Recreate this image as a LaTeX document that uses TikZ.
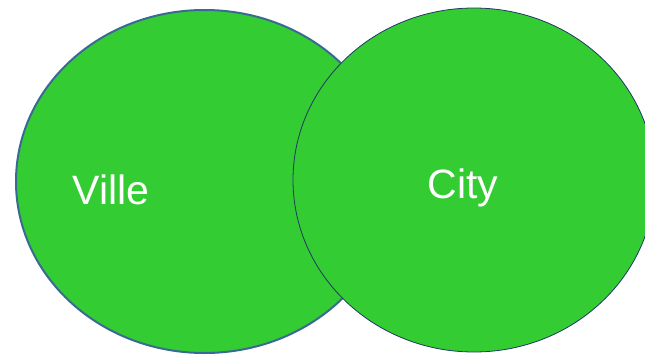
\documentclass[tikz,border=0pt]{standalone}
\usepackage{fontspec}
\setmainfont{Liberation Sans}
\usetikzlibrary{shapes.geometric}
\definecolor{vgreen}{HTML}{33CC33}
\definecolor{lborder}{HTML}{3A6A94}
\definecolor{rborder}{HTML}{203864}
\tikzset{
  blob/.style={ellipse, fill=vgreen, inner sep=0pt, outer sep=0pt},
  lbl/.style={anchor=base west, inner sep=0pt, text=white, font=\fontsize{41}{49}\selectfont}
}
\begin{document}
\begin{tikzpicture}[x=1pt,y=-1pt]
\useasboundingbox (0,0) rectangle (645,354);
\node[blob, draw=lborder, line width=2pt, minimum width=377pt, minimum height=343pt] (ville) at (204.5,181.5) {};
\node[blob, draw=rborder, line width=0.8pt, minimum width=362pt, minimum height=344pt] (city) at (474,180) {};
\node[lbl] (villetext) at (72.5,204.5) {Ville};
\node[lbl] (citytext) at (427.5,198.5) {City};
\end{tikzpicture}
\end{document}
